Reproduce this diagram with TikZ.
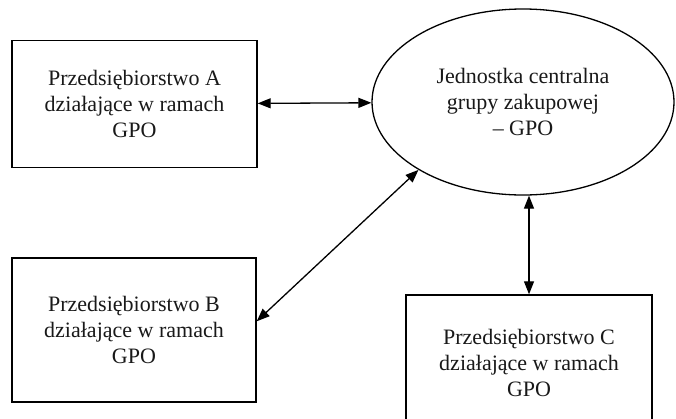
\documentclass[tikz,border=0pt]{standalone}
\usepackage{fontspec}
\setmainfont{Liberation Serif}
\usetikzlibrary{arrows.meta,shapes.geometric,calc}
\begin{document}
\begin{tikzpicture}[x=1pt,y=-1pt,
  every node/.style={font=\fontsize{22}{26}\selectfont, align=center, inner sep=0pt, text=black!90},
  firmbox/.style={draw, line width=1.4pt, rectangle},
  central/.style={draw, line width=1.3pt, ellipse},
  link/.style={line width=1.3pt, {Triangle[length=13pt,width=10pt]}-{Triangle[length=13pt,width=10pt]}}
]
\useasboundingbox (0,0) rectangle (676,418);
\node[firmbox, minimum width=245pt, minimum height=127pt] (A) at (134.5,104) {Przedsiębiorstwo A\\działające w ramach\\GPO};
\node[central, minimum width=302pt, minimum height=186pt] (E) at (523,102) {Jednostka centralna\\grupy zakupowej\\– GPO};
\node[firmbox, minimum width=244pt, minimum height=144pt] (B) at (134,330) {Przedsiębiorstwo B\\działające w ramach\\GPO};
\node[firmbox, minimum width=246pt, minimum height=136pt] (C) at (529,363) {Przedsiębiorstwo C\\działające w ramach\\GPO};
\draw[link] (A) -- (E);
\draw[link] ($(B.north east)!0.44!(B.south east)$) -- (E.213);
\draw[link] (C.north) -- (C.north |- E.south);
\end{tikzpicture}
\end{document}
